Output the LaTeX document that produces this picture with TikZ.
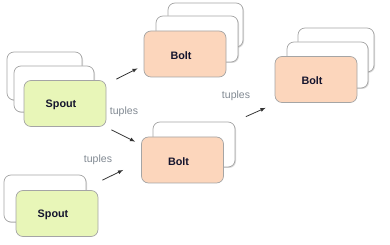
\documentclass[tikz,border=0pt]{standalone}
\usepackage{fontspec}
\setmainfont{Liberation Sans}
\usetikzlibrary{arrows.meta,calc,shadows}
\definecolor{spoutgreen}{RGB}{232,246,184}
\definecolor{boltpeach}{RGB}{252,214,188}
\definecolor{boxline}{RGB}{165,165,165}
\definecolor{tuplegray}{RGB}{128,136,145}
\definecolor{tasktextcol}{RGB}{20,20,45}

\begin{document}
\begin{tikzpicture}[x=1pt,y=-1pt,
    backbox/.style={draw=boxline,fill=white,rounded corners=7pt,line width=0.7pt,
      drop shadow={shadow xshift=1pt,shadow yshift=-1pt,opacity=0.3}},
    tasktext/.style={xshift=-4pt,yshift=-1.5pt,text=tasktextcol,
      font=\bfseries\fontsize{10.8}{12}\selectfont},
    task/.style={draw=boxline,rounded corners=7pt,line width=0.7pt,
      minimum width=82pt,minimum height=46pt,inner sep=0pt,
      label={[tasktext]center:#1}},
    spout/.style={task=#1,fill=spoutgreen},
    bolt/.style={task=#1,fill=boltpeach},
    flow/.style={-latex,line width=0.8pt,draw=black!80},
    tuplelabel/.style={text=tuplegray,font=\fontsize{10.5}{12}\selectfont}]
  \useasboundingbox (0,0) rectangle (390,245);
  %Back copies of each task
  \foreach \l/\t/\r/\b in {7/52/82/100, 14/66/94/112,
      168/3/243/47, 156/16/238/62,
      298/28/374/72, 287/42/368/88,
      153/122/235/167,
      4/175/86/222}
    \draw[backbox] (\l,\t) rectangle (\r,\b);
  %Front tasks
  \node[spout=Spout] (spout1) at (65,103.5) {};
  \node[spout=Spout] (spout2) at (57,213.5) {};
  \node[bolt=Bolt] (bolt1) at (185,54) {};
  \node[bolt=Bolt] (bolt2) at (182.5,160) {};
  \node[bolt=Bolt] (bolt3) at (316,79.5) {};
  %Streams
  \draw[flow] ([xshift=10pt,yshift=1pt]spout1.north east) -- ([xshift=-6pt,yshift=9pt]bolt1.south west);
  \draw[flow] ([xshift=5pt,yshift=-3pt]spout1.south east) -- ([xshift=-6pt,yshift=-5pt]bolt2.north west);
  \draw[flow] ([xshift=4pt,yshift=10pt]spout2.north east) -- ([xshift=-18pt,yshift=-10pt]bolt2.west);
  \draw[flow] ([xshift=22pt,yshift=20pt]bolt2.north east) -- ([xshift=-9pt,yshift=-5pt]bolt3.south west);
  %Labels
  \node[tuplelabel] (tuples1) at (124,112) {tuples};
  \node[tuplelabel] (tuples2) at (98,160) {tuples};
  \node[tuplelabel] (tuples3) at (236,96) {tuples};
\end{tikzpicture}
\end{document}
